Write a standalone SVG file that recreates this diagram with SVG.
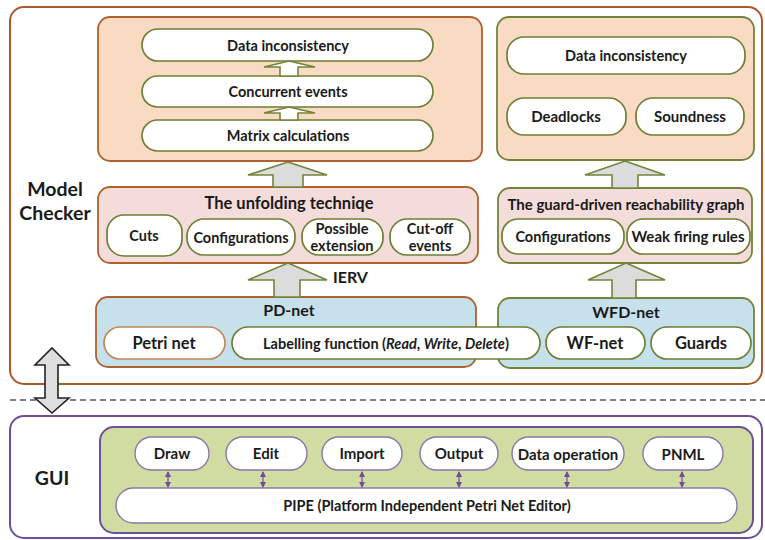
<svg xmlns="http://www.w3.org/2000/svg" width="765" height="540" viewBox="0 0 765 540">
  <defs>
    <marker id="tip" viewBox="0 0 6 6" refX="5" refY="3" markerWidth="5" markerHeight="5" orient="auto-start-reverse">
      <path d="M0,0 L6,3 L0,6 z" fill="#6f4f9a"/>
    </marker>
    <style>
      text { font-family: Lato, "Liberation Sans", sans-serif; font-weight: bold; fill: #1a1a1a; text-anchor: middle; dominant-baseline: central; }
      .t14 { font-size: 14.5px; }
      .t15 { font-size: 15px; }
      .t16 { font-size: 16px; }
      .t17 { font-size: 16.5px; }
      .t19 { font-size: 19.5px; }
      .outer-mc { fill: #ffffff; stroke: #a85a2a; stroke-width: 2; }
      .outer-gui { fill: #ffffff; stroke: #6f4f9a; stroke-width: 2; }
      .peach-br { fill: #f9dac3; stroke: #b0622e; stroke-width: 1.8; }
      .peach-ol { fill: #f9dac3; stroke: #71853a; stroke-width: 1.8; }
      .pink-br { fill: #f3dcd9; stroke: #b0622e; stroke-width: 1.8; }
      .pink-ol { fill: #f3dcd9; stroke: #71853a; stroke-width: 1.8; }
      .blue-br { fill: #c6e1eb; stroke: #b0622e; stroke-width: 1.8; }
      .blue-ol { fill: #c6e1eb; stroke: #71853a; stroke-width: 1.8; }
      .green { fill: #d1dca3; stroke: #6f4f9a; stroke-width: 2; }
      .node { fill: #ffffff; stroke: #6d7f35; stroke-width: 1.7; }
      .node-tan { fill: #ffffff; stroke: #c0885a; stroke-width: 1.7; }
      .node-gui { fill: #ffffff; stroke: #8a78a8; stroke-width: 1.4; }
      .big-arrow { fill: #dcdcdc; stroke: #71853a; stroke-width: 1.6; }
      .small-arrow { fill: #ffffff; stroke: #71853a; stroke-width: 1.6; }
      .dbl-arrow { fill: #dedede; stroke: #222222; stroke-width: 1.6; }
      .link { stroke: #6f4f9a; stroke-width: 1.2; fill: none; marker-start: url(#tip); marker-end: url(#tip); }
    </style>
  </defs>

  <!-- Model checker layer -->
  <g id="model-checker">
    <rect class="outer-mc" x="10" y="7" width="752" height="377" rx="14"/>
    <text class="t19" x="55" y="188">Model</text>
    <text class="t19" x="55" y="212">Checker</text>
  </g>

  <!-- GUI layer -->
  <g id="gui">
    <rect class="outer-gui" x="10" y="416" width="752" height="122" rx="14"/>
    <text class="t19" x="52" y="477">GUI</text>
    <rect class="green" x="100" y="427" width="653" height="106" rx="14"/>
  </g>

  <!-- separator between layers -->
  <line x1="10" y1="400" x2="765" y2="400" stroke="#7f7f7f" stroke-width="2" stroke-dasharray="6,4"/>

  <!-- Unfolding-based analysis -->
  <g id="unfolding-results">
    <rect class="peach-br" x="98" y="17" width="384" height="144" rx="12"/>
  </g>
  <g id="data-inconsistency-left">
    <rect class="node" x="142" y="29" width="291" height="32" rx="16"/>
    <text class="t14" x="288" y="45">Data inconsistency</text>
  </g>
  <g id="concurrent-events">
    <rect class="node" x="142" y="76" width="291" height="31" rx="15.5"/>
    <text class="t14" x="288" y="91">Concurrent events</text>
  </g>
  <g id="matrix-calculations">
    <rect class="node" x="142" y="120" width="291" height="31" rx="15.5"/>
    <text class="t14" x="288" y="135">Matrix calculations</text>
  </g>

  <g id="unfolding-technique">
    <rect class="pink-br" x="98" y="187" width="380" height="76" rx="12"/>
    <text class="t17" x="289" y="203">The unfolding techniqe</text>
  </g>
  <g id="cuts">
    <rect class="node" x="107" y="215" width="75" height="41" rx="17"/>
    <text class="t14" x="144" y="235">Cuts</text>
  </g>
  <g id="configurations-left">
    <rect class="node" x="187" y="219" width="108" height="36" rx="17"/>
    <text class="t14" x="241" y="237">Configurations</text>
  </g>
  <g id="possible-extension">
    <rect class="node" x="302" y="219" width="81" height="36" rx="17"/>
    <text class="t14" x="342" y="228">Possible</text>
    <text class="t14" x="342" y="245">extension</text>
  </g>
  <g id="cut-off-events">
    <rect class="node" x="390" y="219" width="80" height="36" rx="17"/>
    <text class="t14" x="430" y="228">Cut-off</text>
    <text class="t14" x="430" y="245">events</text>
  </g>

  <!-- PD-net and WFD-net models -->
  <g id="pd-net">
    <rect class="blue-br" x="96" y="297" width="380" height="70" rx="12"/>
    <text class="t16" x="289" y="309">PD-net</text>
  </g>
  <g id="wfd-net">
    <rect class="blue-ol" x="498" y="298" width="256" height="70" rx="12"/>
    <text class="t16" x="626" y="311">WFD-net</text>
  </g>
  <g id="petri-net">
    <rect class="node-tan" x="104" y="327" width="121" height="32" rx="16"/>
    <text class="t17" x="164" y="343">Petri net</text>
  </g>
  <g id="labelling-function">
    <rect class="node" x="232" y="327" width="308" height="32" rx="16"/>
    <text class="t14" x="386" y="343">Labelling function (<tspan font-style="italic">Read</tspan>, <tspan font-style="italic">Write</tspan>, <tspan font-style="italic">Delete</tspan>)</text>
  </g>
  <g id="wf-net">
    <rect class="node" x="546" y="327" width="99" height="32" rx="16"/>
    <text class="t17" x="595" y="343">WF-net</text>
  </g>
  <g id="guards">
    <rect class="node" x="651" y="327" width="100" height="32" rx="16"/>
    <text class="t17" x="701" y="343">Guards</text>
  </g>

  <!-- Reachability-graph analysis -->
  <g id="reachability-results">
    <rect class="peach-ol" x="497" y="17" width="257" height="143" rx="12"/>
  </g>
  <g id="data-inconsistency-right">
    <rect class="node" x="507" y="37" width="238" height="37" rx="17"/>
    <text class="t14" x="626" y="55">Data inconsistency</text>
  </g>
  <g id="deadlocks">
    <rect class="node" x="507" y="98" width="119" height="37" rx="17"/>
    <text class="t15" x="566" y="116">Deadlocks</text>
  </g>
  <g id="soundness">
    <rect class="node" x="636" y="98" width="108" height="37" rx="17"/>
    <text class="t15" x="690" y="116">Soundness</text>
  </g>
  <g id="guard-driven-graph">
    <rect class="pink-ol" x="498" y="188" width="254" height="75" rx="12"/>
    <text class="t15" x="626" y="204">The guard-driven reachability graph</text>
  </g>
  <g id="configurations-right">
    <rect class="node" x="502" y="219" width="122" height="35" rx="16"/>
    <text class="t14" x="563" y="236">Configurations</text>
  </g>
  <g id="weak-firing-rules">
    <rect class="node" x="627" y="219" width="123" height="35" rx="16"/>
    <text class="t15" x="688" y="236">Weak firing rules</text>
  </g>

  <!-- GUI components -->
  <g id="draw">
    <rect class="node-gui" x="135" y="437" width="74" height="33" rx="16.5"/>
    <text class="t15" x="172" y="453">Draw</text>
  </g>
  <g id="edit">
    <rect class="node-gui" x="226" y="437" width="81" height="33" rx="16.5"/>
    <text class="t15" x="266" y="453">Edit</text>
  </g>
  <g id="import">
    <rect class="node-gui" x="322" y="437" width="80" height="33" rx="16.5"/>
    <text class="t15" x="362" y="453">Import</text>
  </g>
  <g id="output">
    <rect class="node-gui" x="420" y="437" width="78" height="33" rx="16.5"/>
    <text class="t15" x="459" y="453">Output</text>
  </g>
  <g id="data-operation">
    <rect class="node-gui" x="512" y="437" width="112" height="33" rx="16.5"/>
    <text class="t15" x="568" y="454">Data operation</text>
  </g>
  <g id="pnml">
    <rect class="node-gui" x="643" y="437" width="80" height="33" rx="16.5"/>
    <text class="t15" x="683" y="454">PNML</text>
  </g>
  <g id="pipe">
    <rect class="node-gui" x="116" y="488" width="621" height="35" rx="17.5"/>
    <text class="t14" x="427" y="505">PIPE (Platform Independent Petri Net Editor)</text>
  </g>

  <!-- connectors -->
  <g id="connectors">
    <polygon class="small-arrow" points="289,61 315,67 298,67 298,76 280,76 280,67 264,67"/>
    <polygon class="small-arrow" points="289,107 315,113 298,113 298,120 280,120 280,113 264,113"/>
    <polygon class="big-arrow" points="288,162 327,175 303,175 303,187 273,187 273,175 248,175"/>
    <polygon class="big-arrow" points="288,263 327,280 300,280 300,297 274,297 274,280 248,280"/>
    <text class="t16" x="333" y="276" style="text-anchor:start">IERV</text>
    <polygon class="big-arrow" points="625,161 665,175 638,175 638,188 612,188 612,175 585,175"/>
    <polygon class="big-arrow" points="626,263 665,280 636,280 636,298 612,298 612,280 588,280"/>
    <polygon class="dbl-arrow" points="52,348 69,365 58,365 58,398 69,398 52,413 35,398 45,398 45,365 35,365"/>
    <line class="link" x1="168" y1="472" x2="168" y2="487"/>
    <line class="link" x1="263" y1="472" x2="263" y2="487"/>
    <line class="link" x1="362" y1="472" x2="362" y2="487"/>
    <line class="link" x1="459" y1="472" x2="459" y2="487"/>
    <line class="link" x1="567" y1="472" x2="567" y2="487"/>
    <line class="link" x1="682" y1="472" x2="682" y2="487"/>
  </g>
</svg>
